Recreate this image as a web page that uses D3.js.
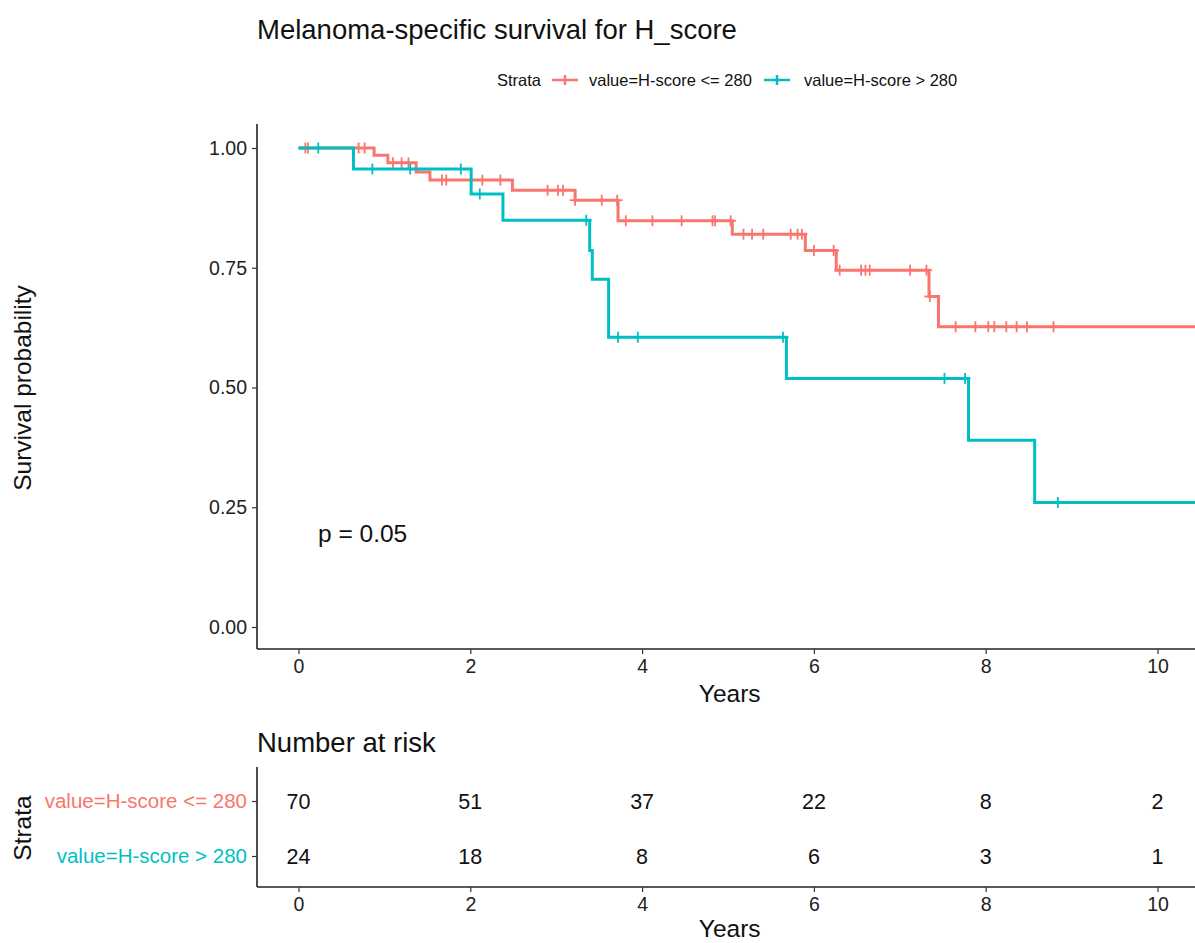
<!DOCTYPE html>
<html>
<head>
<meta charset="utf-8">
<script src="https://cdn.jsdelivr.net/npm/d3@7"></script>
<style>
  body { margin: 0; background: #fff; }
  text { font-family: "Liberation Sans", Arial, sans-serif; }
</style>
</head>
<body>
<div id="chart"></div>
<script>
// strata
var strata = ["value=H-score <= 280", "value=H-score > 280"];
var colors = ["#F8766D", "#00BFC4"];

// KM steps, low H-score
var lowTimes = [0, 0.88, 1.04, 1.37, 1.53, 2.49, 3.22, 3.72, 5.05, 5.90, 6.26, 7.34, 7.45];
var lowSurv  = [1, 0.985, 0.969, 0.950, 0.933, 0.912, 0.891, 0.848, 0.820, 0.786, 0.745, 0.690, 0.627];
var lowCensor = [0.08, 0.11, 0.70, 0.77, 1.10, 1.20, 1.28, 1.67, 1.72, 2.14, 2.35, 2.90, 3.02, 3.08, 3.22,
  3.53, 3.71, 3.81, 4.12, 4.46, 4.82, 4.85, 5.03, 5.18, 5.28, 5.41, 5.73, 5.81, 5.86, 6.0, 6.23, 6.30,
  6.55, 6.60, 6.65, 7.12, 7.31, 7.35, 7.65, 7.88, 8.03, 8.10, 8.24, 8.36, 8.48, 8.79];

// KM steps, high H-score
var highTimes = [0, 0.64, 2.01, 2.38, 3.39, 3.42, 3.61, 5.68, 7.80, 8.57];
var highSurv  = [1, 0.956, 0.904, 0.849, 0.786, 0.726, 0.605, 0.519, 0.390, 0.260];
var highCensor = [0.23, 0.86, 1.30, 1.89, 2.11, 3.35, 3.72, 3.95, 5.64, 7.52, 7.76, 8.84];

var endTime = 10.6;

// number at risk
var riskTimes = [0, 2, 4, 6, 8, 10];
var riskLow  = [70, 51, 37, 22, 8, 2];
var riskHigh = [24, 18, 8, 6, 3, 1];

var xTicks = [0, 2, 4, 6, 8, 10];
var yTicks = [0, 0.25, 0.5, 0.75, 1];

var width = 1195, height = 943;
var svg = d3.select("#chart").append("svg")
    .attr("width", width)
    .attr("height", height);

var x = d3.scaleLinear().domain([0, 10]).range([298.5, 1157.5]);
var y = d3.scaleLinear().domain([0, 1]).range([627, 148]);

var axisLeft = 257, plotTop = 124, plotBottom = 649;
var font = "'Liberation Sans', Arial, sans-serif";

// title
svg.append("text").attr("x", 257).attr("y", 39)
    .attr("font-size", 27.5).attr("fill", "#111")
    .text("Melanoma-specific survival for H_score");

// legend
var leg = svg.append("g").attr("font-size", 16.5).attr("fill", "#111");
leg.append("text").attr("x", 497).attr("y", 86).text("Strata");
var legX = [552, 764];
var legT = [589, 804];
strata.forEach(function(s, i) {
  var g = leg.append("g").attr("stroke", colors[i]).attr("stroke-width", 2.5);
  g.append("line").attr("x1", legX[i]).attr("x2", legX[i] + 26).attr("y1", 80).attr("y2", 80);
  g.append("line").attr("x1", legX[i] + 13).attr("x2", legX[i] + 13).attr("y1", 75).attr("y2", 85);
  leg.append("text").attr("x", legT[i]).attr("y", 86).text(s);
});

// axes of survival plot
var gy = svg.append("g").attr("transform", "translate(" + axisLeft + ",0)")
    .call(d3.axisLeft(y).tickValues(yTicks).tickFormat(d3.format(".2f")).tickSize(5).tickPadding(5));
gy.select(".domain").attr("d", "M0," + plotTop + "V" + plotBottom);
var gx = svg.append("g").attr("transform", "translate(0," + plotBottom + ")")
    .call(d3.axisBottom(x).tickValues(xTicks).tickSize(5).tickPadding(5));
gx.select(".domain").attr("d", "M" + axisLeft + ",0H" + width);
[gx, gy].forEach(function(g) {
  g.select(".domain").attr("stroke", "#222").attr("stroke-width", 1.6);
  g.selectAll(".tick line").attr("stroke", "#333").attr("stroke-width", 1.2);
  g.selectAll(".tick text").attr("font-size", 19.5).attr("fill", "#222")
    .attr("font-family", font);
});

svg.append("text").attr("transform", "translate(31,388) rotate(-90)")
    .attr("text-anchor", "middle").attr("font-size", 24.5).attr("fill", "#111")
    .text("Survival probability");
svg.append("text").attr("x", x(5.02)).attr("y", 702)
    .attr("text-anchor", "middle").attr("font-size", 24.5).attr("fill", "#111")
    .text("Years");

// curves
svg.append("clipPath").attr("id", "clip").append("rect")
    .attr("x", axisLeft).attr("y", plotTop - 10).attr("width", width - axisLeft).attr("height", plotBottom - plotTop + 10);
var plot = svg.append("g").attr("clip-path", "url(#clip)");

var line = d3.line().x(function(d) { return x(d[0]); }).y(function(d) { return y(d[1]); })
    .curve(d3.curveStepAfter);

function survAt(times, surv, t) {
  var i = d3.bisectRight(times, t) - 1;
  return surv[Math.max(0, i)];
}

var curves = [
  {times: lowTimes, surv: lowSurv, cens: lowCensor},
  {times: highTimes, surv: highSurv, cens: highCensor}
];
curves.forEach(function(c, i) {
  var pts = c.times.map(function(t, j) { return [t, c.surv[j]]; });
  pts.push([endTime, c.surv[c.surv.length - 1]]);
  plot.append("path").datum(pts)
      .attr("fill", "none").attr("stroke", colors[i]).attr("stroke-width", 3)
      .attr("d", line);
  var cg = plot.append("g").attr("stroke", colors[i]).attr("stroke-width", 1.8);
  c.cens.forEach(function(t) {
    var cx = x(t), cy = y(survAt(c.times, c.surv, t));
    cg.append("line").attr("x1", cx).attr("x2", cx).attr("y1", cy - 5.5).attr("y2", cy + 5.5);
    cg.append("line").attr("x1", cx - 5.5).attr("x2", cx + 5.5).attr("y1", cy).attr("y2", cy);
  });
});

svg.append("text").attr("x", 318).attr("y", 542)
    .attr("font-size", 24.5).attr("fill", "#111").text("p = 0.05");

// risk table
svg.append("text").attr("x", 257).attr("y", 752)
    .attr("font-size", 27.5).attr("fill", "#111").text("Number at risk");

var rowY = d3.scalePoint().domain(strata).range([801, 856]);
var tTop = 767, tBottom = 887;

var ry = svg.append("g").attr("transform", "translate(" + axisLeft + ",0)")
    .call(d3.axisLeft(rowY).tickSize(5).tickPadding(5));
ry.select(".domain").attr("d", "M0," + tTop + "V" + tBottom);
ry.selectAll(".tick text").attr("font-size", 20.5)
    .attr("font-family", font)
    .attr("fill", function(d, i) { return colors[i]; });
var rx = svg.append("g").attr("transform", "translate(0," + tBottom + ")")
    .call(d3.axisBottom(x).tickValues(xTicks).tickSize(5).tickPadding(5));
rx.select(".domain").attr("d", "M" + axisLeft + ",0H" + width);
rx.selectAll(".tick text").attr("font-size", 19.5).attr("fill", "#222")
    .attr("font-family", font);
[rx, ry].forEach(function(g) {
  g.select(".domain").attr("stroke", "#222").attr("stroke-width", 1.6);
  g.selectAll(".tick line").attr("stroke", "#333").attr("stroke-width", 1.2);
});

[riskLow, riskHigh].forEach(function(vals, i) {
  svg.append("g").selectAll("text").data(vals).join("text")
      .attr("x", function(d, j) { return x(riskTimes[j]); })
      .attr("y", rowY(strata[i]) + 8)
      .attr("text-anchor", "middle").attr("font-size", 21.5).attr("fill", "#111")
      .text(function(d) { return d; });
});

svg.append("text").attr("transform", "translate(31,828) rotate(-90)")
    .attr("text-anchor", "middle").attr("font-size", 24.5).attr("fill", "#111")
    .text("Strata");
svg.append("text").attr("x", x(5.02)).attr("y", 937)
    .attr("text-anchor", "middle").attr("font-size", 24.5).attr("fill", "#111")
    .text("Years");
</script>
</body>
</html>
